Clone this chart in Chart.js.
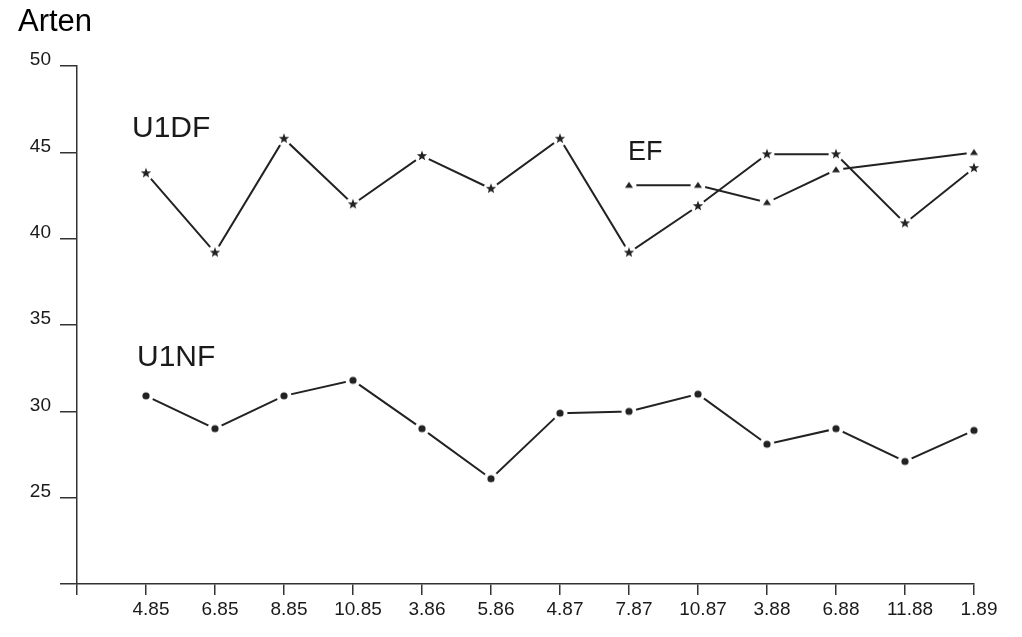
<!DOCTYPE html>
<html>
<head>
<meta charset="utf-8">
<script src="https://cdn.jsdelivr.net/npm/chart.js@4"></script>
<style>
  html, body { margin: 0; padding: 0; background: #ffffff; }
  #wrap { width: 1022px; height: 637px; }
</style>
</head>
<body>
<div id="wrap"><canvas id="c" width="1022" height="637"></canvas></div>
<script>
// ---- data ----
const categories = ['4.85','6.85','8.85','10.85','3.86','5.86','4.87','7.87','10.87','3.88','6.88','11.88','1.89'];
const u1df = [43.8, 39.2, 45.8, 42.0, 44.8, 42.9, 45.8, 39.2, 41.9, 44.9, 44.9, 40.9, 44.1];
const ef   = [null, null, null, null, null, null, null, 43.1, 43.1, 42.1, 44.0, null, 45.0];
const u1nf = [30.9, 29.0, 30.9, 31.8, 29.0, 26.1, 29.9, 30.0, 31.0, 28.1, 29.0, 27.1, 28.9];
const yTicks = [20, 25, 30, 35, 40, 45, 50];

const INK = '#222222';
const FONT = '"Liberation Sans", Arial, sans-serif';

function toPoints(arr) {
  return arr.map((v, i) => ({ x: i, y: v })).filter(p => p.y !== null);
}

function marker(kind) {
  const c = document.createElement('canvas');
  c.width = 18; c.height = 18;
  const g = c.getContext('2d');
  // white halo, so lines stop short of the markers as in the reference
  g.fillStyle = '#ffffff';
  g.beginPath(); g.arc(9, 9, 7.5, 0, Math.PI * 2); g.fill();
  g.fillStyle = INK;
  g.beginPath();
  if (kind === 'star') {
    const R = 5.4, r = 2.3;
    for (let k = 0; k < 10; k++) {
      const a = -Math.PI / 2 + k * Math.PI / 5;
      const rad = k % 2 === 0 ? R : r;
      const px = 9 + rad * Math.cos(a), py = 9 + rad * Math.sin(a);
      if (k === 0) g.moveTo(px, py); else g.lineTo(px, py);
    }
    g.closePath();
  } else if (kind === 'tri') {
    g.moveTo(9, 5.5); g.lineTo(13, 11.5); g.lineTo(5, 11.5); g.closePath();
  } else {
    g.arc(9, 9, 3.6, 0, Math.PI * 2);
  }
  g.fill();
  return c;
}

const labelsPlugin = {
  id: 'seriesLabels',
  afterDatasetsDraw(chart) {
    const ctx = chart.ctx;
    ctx.save();
    ctx.fillStyle = '#1a1a1a';
    ctx.textBaseline = 'alphabetic';
    ctx.textAlign = 'left';
    ctx.font = '30px ' + FONT;
    ctx.fillText('U1DF', 132, 137);
    ctx.fillText('U1NF', 137, 366);
    ctx.font = '27px ' + FONT;
    ctx.fillText('EF', 628, 160);
    ctx.restore();
  }
};

const lineStyle = {
  borderColor: INK,
  borderWidth: 2,
  tension: 0,
  fill: false,
  clip: false,
  pointRadius: 9,
  pointHoverRadius: 9
};

new Chart(document.getElementById('c'), {
  type: 'line',
  data: {
    datasets: [
      Object.assign({ label: 'U1DF', data: toPoints(u1df), pointStyle: marker('star') }, lineStyle),
      Object.assign({ label: 'EF', data: toPoints(ef), pointStyle: marker('tri') }, lineStyle),
      Object.assign({ label: 'U1NF', data: toPoints(u1nf), pointStyle: marker('dot') }, lineStyle)
    ]
  },
  options: {
    responsive: false,
    animation: false,
    events: [],
    layout: { padding: { top: 0, left: 18, right: 48, bottom: 0 } },
    plugins: {
      legend: { display: false },
      tooltip: { enabled: false },
      title: {
        display: true,
        text: 'Arten',
        align: 'start',
        color: '#000000',
        font: { family: FONT, size: 31, weight: 'normal' },
        padding: { top: 4, bottom: 25 }
      }
    },
    scales: {
      x: {
        type: 'linear',
        min: -1,
        max: categories.length - 1,
        afterBuildTicks(scale) {
          scale.ticks = [-1].concat(categories.map((_, i) => i)).map(v => ({ value: v }));
        },
        afterFit(scale) { scale.height = 53; },
        ticks: {
          autoSkip: false,
          maxRotation: 0,
          minRotation: 0,
          padding: 3,
          labelOffset: 5,
          color: '#1a1a1a',
          font: { family: FONT, size: 19 },
          callback: (v) => (v >= 0 && v < categories.length) ? categories[v] : ''
        },
        grid: { drawOnChartArea: false, drawTicks: true, tickLength: 11, color: '#333333', lineWidth: 1.5 },
        border: { display: true, color: '#333333', width: 1.5 }
      },
      y: {
        type: 'linear',
        min: yTicks[0],
        max: yTicks[yTicks.length - 1],
        afterBuildTicks(scale) {
          scale.ticks = yTicks.map(v => ({ value: v }));
        },
        afterFit(scale) { scale.width = 59; },
        ticks: {
          padding: 9,
          labelOffset: -6,
          color: '#1a1a1a',
          font: { family: FONT, size: 19 },
          callback: (v) => v === yTicks[0] ? '' : String(v)
        },
        grid: { drawOnChartArea: false, drawTicks: true, tickLength: 17, color: '#333333', lineWidth: 1.5 },
        border: { display: true, color: '#333333', width: 1.5 }
      }
    }
  },
  plugins: [labelsPlugin]
});
</script>
</body>
</html>
